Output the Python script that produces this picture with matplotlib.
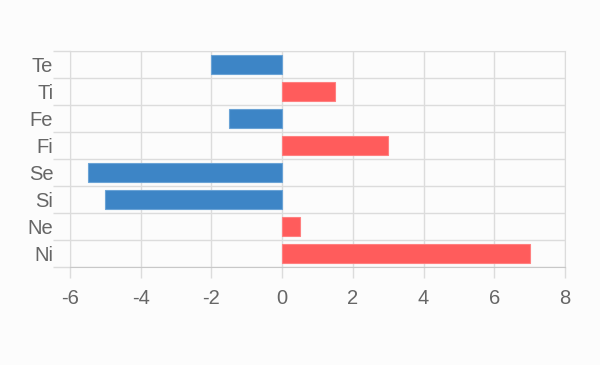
import matplotlib.pyplot as plt
import numpy as np

# данные
labels = ['Te', 'Ti', 'Fe', 'Fi', 'Se', 'Si', 'Ne', 'Ni']
values = [-2, 1.5, -1.5, 3, -5.5, -5, 0.5, 7]

blue = '#3d85c6'
red = '#ff5c5c'
grid_c = '#dcdcdc'
text_c = '#666666'

plt.rcParams['font.family'] = ['Liberation Sans', 'DejaVu Sans']
plt.rcParams['axes.unicode_minus'] = False

fig = plt.figure(figsize=(6, 3.65), dpi=100, facecolor='#fcfcfc')
ax = fig.add_axes([70 / 600, 1 - 267 / 365, 495 / 600, 216 / 365])
ax.set_facecolor('#fcfcfc')

y = np.arange(len(labels))
colors = [red if v > 0 else blue for v in values]
edges = ['#ff8080' if v > 0 else '#6aa3d6' for v in values]
ax.barh(y, values, height=0.68, color=colors, edgecolor=edges, linewidth=0.8, zorder=3)

ax.set_xlim(-6, 8)
ax.set_ylim(len(labels) - 0.5, -0.5)
ax.set_xticks(np.arange(-6, 9, 2))
ax.set_yticks(y)
ax.set_yticklabels(labels)
ax.set_yticks(np.arange(-0.5, len(labels), 1), minor=True)

ax.grid(True, axis='x', color=grid_c, linewidth=1, zorder=0)
ax.grid(True, axis='y', which='minor', color=grid_c, linewidth=1, zorder=0)
ax.tick_params(axis='y', which='major', length=0, pad=12, labelsize=14.5, labelcolor=text_c)
ax.tick_params(axis='y', which='minor', length=12, color=grid_c, width=1)
ax.tick_params(axis='x', length=8, color=grid_c, width=1, pad=8, labelsize=14.5, labelcolor=text_c)

for s in ax.spines.values():
    s.set_color(grid_c)
ax.spines['bottom'].set_color('#c8c8c8')

fig.savefig('out.png', dpi=100, facecolor=fig.get_facecolor())
